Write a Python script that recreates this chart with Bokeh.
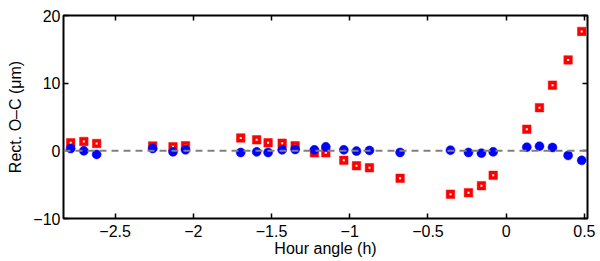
from bokeh.plotting import figure
from bokeh.models import Range1d, LinearAxis, FixedTicker, Span
from bokeh.embed import file_html
from bokeh.resources import INLINE

# data
hour_angle = [-2.784, -2.70, -2.618, -2.26, -2.13, -2.05,
              -1.697, -1.595, -1.522, -1.432, -1.349, -1.226, -1.153, -1.038, -0.957, -0.874,
              -0.678, -0.356, -0.241, -0.158, -0.083,
              0.132, 0.213, 0.296, 0.396, 0.483]
oc_red = [1.18, 1.38, 1.09, 0.72, 0.59, 0.74,
          1.91, 1.62, 1.18, 1.13, 0.74, -0.29, -0.29, -1.41, -2.2, -2.5,
          -4.06, -6.41, -6.18, -5.15, -3.62,
          3.19, 6.38, 9.71, 13.44, 17.65]
oc_blue = [0.35, 0.0, -0.53, 0.35, -0.15, 0.15,
           -0.24, -0.15, -0.24, 0.15, 0.2, 0.15, 0.59, 0.15, -0.04, 0.06,
           -0.24, 0.1, -0.24, -0.34, -0.15,
           0.54, 0.69, 0.5, -0.68, -1.41]
x_ticks = [-2.5, -2.0, -1.5, -1.0, -0.5, 0.0, 0.5]
x_tick_labels = ["−2.5", "−2", "−1.5", "−1", "−0.5", "0", "0.5"]
y_ticks = [-10, 0, 10, 20]
y_tick_labels = ["−10", "0", "10", "20"]

FONT = "Liberation Sans"

p = figure(width=600, height=261, output_backend="svg", toolbar_location=None,
           x_range=Range1d(-2.83, 0.52), y_range=Range1d(-10, 20),
           min_border_left=63, min_border_right=13, min_border_top=15, min_border_bottom=43)
p.xgrid.visible = False
p.ygrid.visible = False
p.outline_line_color = "black"
p.outline_line_width = 2
p.background_fill_color = "white"
p.border_fill_color = "white"

for ax in (p.xaxis[0], p.yaxis[0]):
    ax.axis_line_color = None
    ax.major_tick_in = 5
    ax.major_tick_out = 0
    ax.minor_tick_line_color = None
    ax.major_tick_line_color = "black"
    ax.major_tick_line_width = 1.5
    ax.major_label_text_font = FONT
    ax.major_label_text_font_size = "16px"
    ax.major_label_text_color = "black"
    ax.axis_label_text_font = FONT
    ax.axis_label_text_font_size = "16px"
    ax.axis_label_text_font_style = "normal"
    ax.axis_label_text_color = "black"

p.xaxis[0].ticker = FixedTicker(ticks=x_ticks)
p.xaxis[0].major_label_overrides = dict(zip(x_ticks, x_tick_labels))
p.xaxis[0].axis_label = "Hour angle (h)"
p.xaxis[0].axis_label_standoff = 0
p.xaxis[0].major_label_standoff = 6
p.yaxis[0].ticker = FixedTicker(ticks=y_ticks)
p.yaxis[0].major_label_overrides = dict(zip(y_ticks, y_tick_labels))
p.yaxis[0].axis_label = "Rect. O–C (μm)"
p.yaxis[0].axis_label_standoff = 6
p.yaxis[0].major_label_standoff = 3

top = LinearAxis(ticker=FixedTicker(ticks=x_ticks), major_label_text_color=None,
                 axis_line_color=None, major_tick_in=5, major_tick_out=0,
                 minor_tick_line_color=None, major_tick_line_width=1.5)
right = LinearAxis(ticker=FixedTicker(ticks=y_ticks), major_label_text_color=None,
                   axis_line_color=None, major_tick_in=5, major_tick_out=0,
                   minor_tick_line_color=None, major_tick_line_width=1.5)
p.add_layout(top, "above")
p.add_layout(right, "right")

p.add_layout(Span(location=0, dimension="width", line_color="#808080",
                  line_width=2, line_dash="7 5"))

p.scatter(hour_angle, oc_red, marker="square", size=8.5, fill_color="#ff0000",
          line_color="#ff0000", line_width=0.5)
p.scatter(hour_angle, oc_red, marker="square", size=2, fill_color="white",
          line_color=None)
p.scatter(hour_angle, oc_blue, marker="circle", size=9, fill_color="#0000ff",
          line_color="#0000ff", line_width=0.5)

open("out.html", "w").write(file_html(p, INLINE))
